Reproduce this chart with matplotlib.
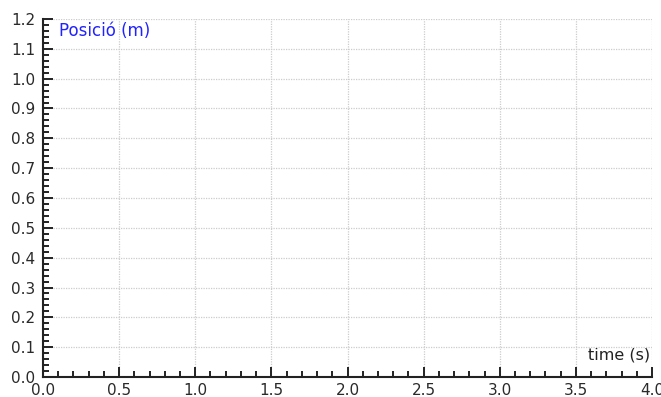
import matplotlib
matplotlib.use("Agg")
import matplotlib.pyplot as plt
import numpy as np

plt.rcParams.update({
    'font.family': ['DejaVu Sans'],
    'font.size': 11,
})

# axis ranges and tick steps (the chart has no data yet)
x_range = [0.0, 4.0]
y_range = [0.0, 1.2]
x_major = [0.0, 0.5, 1.0, 1.5, 2.0, 2.5, 3.0, 3.5, 4.0]
y_major = [0.0, 0.1, 0.2, 0.3, 0.4, 0.5, 0.6, 0.7, 0.8, 0.9, 1.0, 1.1, 1.2]
x_minor_step = 0.1
y_minor_step = 0.02
time_s = []
position_m = []

W, H = 661, 397
fig = plt.figure(figsize=(W / 100, H / 100), dpi=100)
ax = fig.add_axes([43 / W, 1 - 377 / H, 609 / W, 358 / H])

ax.plot(time_s, position_m, color="blue")

ax.set_xlim(*x_range)
ax.set_ylim(*y_range)
ax.set_xticks(x_major)
ax.set_yticks(y_major)
ax.set_xticks(np.arange(x_range[0], x_range[1] + 1e-9, x_minor_step), minor=True)
ax.set_yticks(np.arange(y_range[0], y_range[1] + 1e-9, y_minor_step), minor=True)
ax.set_xticklabels([f"{v:.1f}" for v in x_major])
ax.set_yticklabels([f"{v:.1f}" for v in y_major])

ax.grid(which="major", color="#cccccc", linestyle=(0, (1, 1)), linewidth=0.9)
for s in ["top", "right"]:
    ax.spines[s].set_visible(False)
for s in ["left", "bottom"]:
    ax.spines[s].set_color("#222222")
    ax.spines[s].set_linewidth(1.5)

ax.tick_params(which="major", direction="in", length=7, width=1.4,
               color="#222222", labelcolor="#2a2a2a")
ax.tick_params(which="minor", direction="in", length=4.3, width=1.4,
               color="#222222")
ax.tick_params(axis="x", pad=4.5)
ax.tick_params(axis="y", pad=5.5)

fig.text(59 / W, 1 - 36 / H, "Posició (m)", color="#2222ff", fontsize=12,
         ha="left", va="baseline")
fig.text(650 / W, 1 - 359 / H, "time (s)", color="#222222", fontsize=11.5,
         ha="right", va="baseline")

fig.savefig("out.png", dpi=100)
